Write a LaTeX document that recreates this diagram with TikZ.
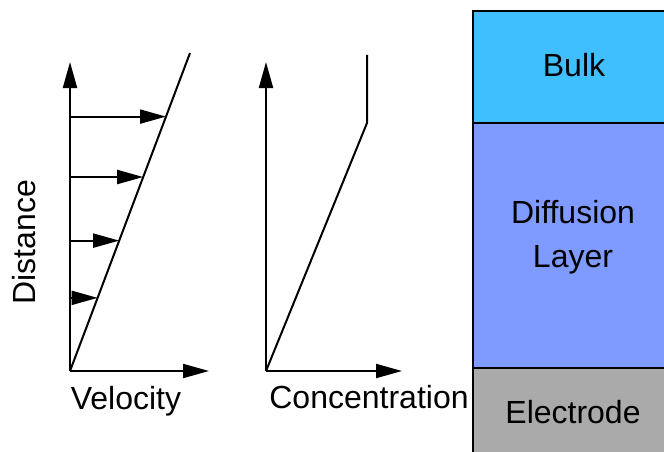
\documentclass[tikz,border=0pt]{standalone}
\usepackage{fontspec}
\setmainfont{Liberation Sans}
\usetikzlibrary{arrows.meta,calc}
\definecolor{bulkblue}{RGB}{64,191,255}
\definecolor{diffblue}{RGB}{128,155,255}
\definecolor{electgray}{RGB}{170,170,170}
\tikzset{
  axis/.style={line width=2pt, -{Triangle[length=26pt,width=14pt]}},
  profile/.style={line width=2pt},
  lbl/.style={font=\fontsize{32}{36}\selectfont, inner sep=0pt, anchor=base},
  layerline/.style={line width=2.5pt},
}
\begin{document}
\begin{tikzpicture}[x=1pt,y=-1pt]
  \clip (0,0) rectangle (664,452);

  % Velocity profile
  \coordinate (vo) at (70,371);
  \coordinate (vy) at (70,62);
  \coordinate (vx) at (209,371);
  \coordinate (vtop) at (190,53);
  \coordinate (vref) at (70,53);
  \draw[axis] (vo) -- (vy);
  \draw[axis] (vo) -- (vx);
  \draw[profile] (vo) -- (vtop);
  \foreach \t in {0.23,0.41,0.61,0.80}
    \draw[axis] ($(vo)!\t!(vref)$) -- ($(vo)!\t!(vtop)$);
  \node[lbl, rotate=90] (dist) at (35,242) {Distance};
  \node[lbl] (vel) at (126,409) {Velocity};

  % Concentration profile
  \coordinate (co) at (266,371);
  \coordinate (cy) at (266,62);
  \coordinate (cx) at (402,371);
  \coordinate (cbend) at (367,123);
  \coordinate (ctop) at (367,55);
  \draw[axis] (co) -- (cy);
  \draw[axis] (co) -- (cx);
  \draw[profile] (co) -- (cbend) -- (ctop);
  \node[lbl] (conc) at (369,408) {Concentration};

  % Layers
  \fill[bulkblue] (473,11) rectangle (670,123);
  \fill[diffblue] (473,123) rectangle (670,368);
  \fill[electgray] (473,368) rectangle (670,460);
  \draw[layerline] (670,11) -- (473,11) -- (473,460);
  \draw[layerline] (473,123) -- (670,123);
  \draw[layerline] (473,368) -- (670,368);
  \node[lbl] (bulk) at (574,77) {Bulk};
  \node[lbl] (diff) at (573,223) {Diffusion};
  \node[lbl] (layer) at (573,267) {Layer};
  \node[lbl] (elec) at (573,423) {Electrode};
\end{tikzpicture}
\end{document}
